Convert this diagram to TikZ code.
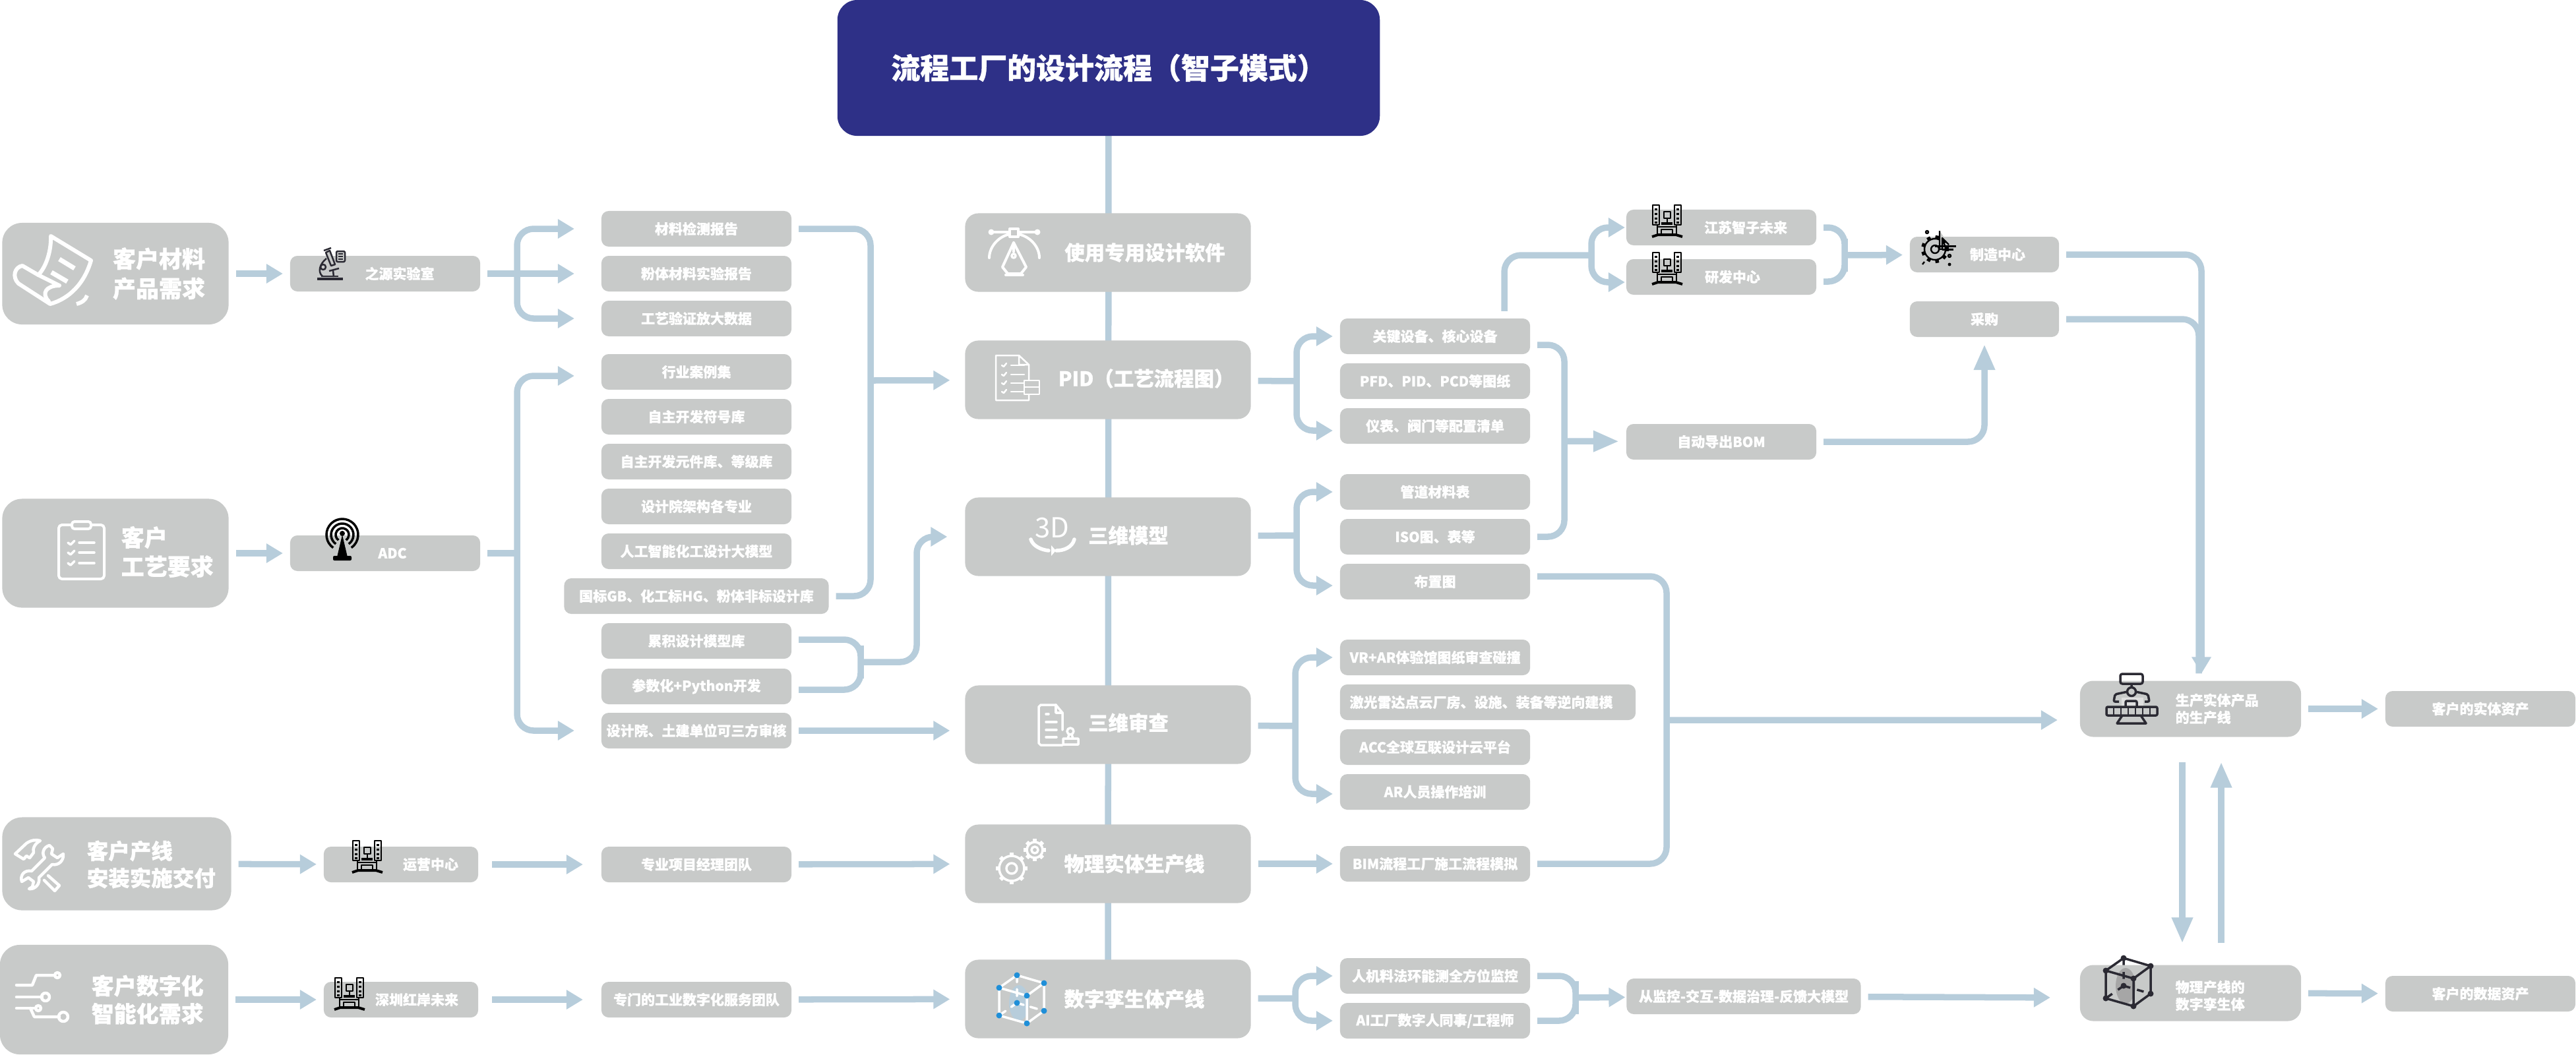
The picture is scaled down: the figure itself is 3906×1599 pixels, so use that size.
\documentclass[tikz,border=0pt]{standalone}
\usepackage{fontspec}
\setmainfont{Noto Sans CJK SC}[BoldFeatures={FakeBold=0.8}]
\usetikzlibrary{arrows.meta}
\pgfdeclarelayer{background}
\pgfsetlayers{background,main}
\definecolor{navy}{HTML}{2E3087}
\definecolor{boxgray}{HTML}{C8CAC9}
\definecolor{flowblue}{HTML}{B7CDDB}
\definecolor{icondark}{HTML}{2B2A33}
\definecolor{nodeblue}{HTML}{1F8FD8}

\tikzset{
  smallfont/.style={font=\bfseries\fontsize{5.97pt}{7.4pt}\selectfont},
  midfont/.style={font=\bfseries\fontsize{8.65pt}{10pt}\selectfont},
  box/.style={rectangle,rounded corners=0.11cm,fill=boxgray,text=white,inner sep=0pt,
    outer sep=0.11cm,minimum width=2.88cm,minimum height=0.54cm,smallfont},
  mainbox/.style={box,rounded corners=0.2cm,minimum width=4.33cm,minimum height=1.19cm},
  custbox/.style={box,rounded corners=0.3cm,minimum width=3.43cm},
  txt/.style={text=white,inner sep=0pt,smallfont},
  maintxt/.style={txt,midfont},
  line/.style={draw=flowblue,line width=0.095cm,rounded corners=0.25cm},
  flow/.style={line,-{Triangle[length=0.25cm,width=0.28cm]}},
  bigflow/.style={line,-{Triangle[length=0.39cm,width=0.3cm]}},
  wicon/.style={draw=white,line width=0.06cm,line cap=round,line join=round},
  wthin/.style={draw=white,line width=0.035cm,line cap=round,line join=round},
  dicon/.style={draw=icondark,line width=0.035cm,line join=round},
  bicon/.style={draw=black,line width=0.024cm,line join=round},
  scrollico/.pic={
    \draw [wicon] (67,13) -- (128,50) .. controls (118,85) and (95,108) .. (66,116)
      -- (18,85) .. controls (8,75) and (12,60) .. (24,58) -- (48,72)
      .. controls (60,60) and (68,35) .. (67,13) -- cycle ;
    \draw [wicon] (48,72) -- (80,88) .. controls (60,88) and (52,100) .. (64,112) ;
    \draw [wicon,line width=0.07cm,line cap=butt] (80,48) -- (103,62) ;
    \draw [wicon,line width=0.07cm,line cap=butt] (68,68) -- (92,82) ;
    \draw [wicon,line cap=butt] (122,103) .. controls (120,110) and (114,114) .. (106,116) ;
  },
  clipico/.pic={
    \draw [wthin,line width=0.04cm,rounded corners=0.05cm] (0,5) rectangle (69,87) ;
    \draw [wthin,line width=0.04cm,fill=boxgray,rounded corners=0.04cm] (20,0) rectangle (49,11) ;
    \foreach \y in {32,47,63} {
      \draw [wthin] (31,\y) -- (54,\y) ;
      \draw [wthin] (14,\y) -- (18,\y+3) -- (24,\y-3) ;
    }
  },
  wrenchico/.pic={
    \draw [wthin,line width=0.045cm] (8,30) -- (25,14) .. controls (32,9) and (40,8) .. (46,10)
      .. controls (38,14) and (34,22) .. (36,28) -- (30,36) -- (25,33) -- (21,38) -- cycle ;
    \draw [wthin,line width=0.045cm] (58,63) -- (75,78) -- (68,86) -- (52,70) ;
    \draw [wthin,line width=0.045cm] (60,17) .. controls (50,20) and (48,30) .. (53,36) -- (33,56)
      .. controls (22,54) and (15,62) .. (18,72) -- (28,66) -- (36,72) -- (34,80) -- (29,83)
      .. controls (38,84) and (46,76) .. (44,66) -- (64,46)
      .. controls (74,48) and (82,40) .. (81,30) -- (72,36) -- (63,30) -- (65,22) -- cycle ;
  },
  circuitico/.pic={
    \draw [wthin,line width=0.045cm] (60,7) -- (33,7) -- (27,22) -- (3,22) ;
    \draw [wthin,line width=0.045cm] (65,7) circle [radius=4] ;
    \draw [wthin,line width=0.045cm] (3,40) -- (42,40) ;
    \draw [wthin,line width=0.045cm] (47,40) circle [radius=6] ;
    \draw [wthin,line width=0.045cm] (3,57) -- (31,57) ;
    \draw [wthin,line width=0.045cm] (36,57) circle [radius=4] ;
    \draw [wthin,line width=0.045cm] (24,57) -- (30,70) -- (68,70) ;
    \draw [wthin,line width=0.045cm] (74,70) circle [radius=7] ;
  },
  penico/.pic={
    \fill [white] (18,17) circle [radius=4.5] (88,17) circle [radius=4.5] ;
    \draw [wthin,line width=0.04cm] (46,12) rectangle (59,24) ;
    \draw [wthin,line width=0.04cm] (18,17) -- (46,17) (59,17) -- (88,17) ;
    \draw [wthin,line width=0.04cm] (46,20) .. controls (28,24) and (15,40) .. (15,56) ;
    \draw [wthin,line width=0.04cm] (59,20) .. controls (78,24) and (91,40) .. (91,56) ;
    \draw [wthin,line width=0.04cm] (52,33) -- (35,70) -- (43,80) -- (63,80) -- (71,70) -- cycle ;
    \draw [wthin,line width=0.04cm] (40,82) -- (66,82) (52,33) -- (52,47) ;
    \draw [wthin] (52,53) circle [radius=3] ;
  },
  docico/.pic={
    \draw [wthin,line width=0.025cm] (35,0) -- (0,0) -- (0,68) -- (50,68) -- (50,14) -- (35,0) -- (35,14) -- (50,14) ;
    \foreach \y in {15,29,42,55} {
      \draw [wthin,line width=0.025cm] (23,\y) -- (43,\y) ;
      \draw [wthin,line width=0.025cm] (9,\y) -- (12,\y+2) -- (16,\y-3) ;
    }
    \draw [wthin,line width=0.025cm,fill=boxgray] (43,38) rectangle (66,48) (43,48) rectangle (66,59) ;
  },
  spinico/.pic={
    \draw [wthin,line width=0.055cm] (2,0) .. controls (5,10) and (18,16) .. (29,17) ;
    \draw [wthin,line width=0.055cm] (68,0) .. controls (65,12) and (52,17) .. (41,17) ;
    \fill [white] (33,9) -- (40,17) -- (33,25) -- cycle ;
  },
  revico/.pic={
    \draw [wthin,line width=0.035cm] (36,38) -- (36,12) -- (26,0) -- (3,0) -- (0,3) -- (0,58) -- (3,61) -- (36,61) ;
    \draw [wthin,line width=0.035cm] (26,0) -- (26,12) -- (36,12) ;
    \draw [wthin] (11,14) -- (15,14) (11,38) -- (27,38) (11,49) -- (27,49) (11,26) -- (27,26) ;
    \draw [wthin] (48,40) circle [radius=5] ;
    \draw [wthin] (37,51) rectangle (60,60) (44,51) -- (46,45) (52,51) -- (50,45) ;
  },
  microico/.pic={
    \draw [dicon,line width=0.025cm] (20,22) .. controls (10,30) and (6,42) .. (14,49) ;
    \draw [dicon,line width=0.025cm,fill=boxgray] (19,13) -- (25,10) -- (33,31) -- (27,33) -- cycle ;
    \draw [dicon,line width=0.025cm] (16,10) -- (27,6) ;
    \draw [dicon,line width=0.025cm] (15,35) circle [radius=4] ;
    \draw [dicon,line width=0.025cm] (24,41) -- (39,37) (30,40) -- (31,50) ;
    \draw [dicon,line width=0.025cm] (12,49) -- (38,49) ;
    \draw [dicon,line width=0.035cm] (6,53) -- (45,53) ;
    \draw [dicon,line width=0.025cm,fill=boxgray,rounded corners=0.02cm] (35,11) rectangle (48,27) ;
    \foreach \y in {15,19,23} \draw [dicon,line width=0.012cm] (38,\y) -- (45,\y) ;
  },
  antennaico/.pic={
    \fill [black] (28,24) -- (20,58) -- (36,58) -- cycle ;
    \fill [black,rounded corners=0.02cm] (14,56) rectangle (42,63) ;
    \fill [black] (28,22) circle [radius=4] ;
    \foreach \r in {10,17,24}
      \draw [black,line width=0.035cm] (28,24) ++(125:\r) arc [start angle=125,end angle=415,radius=\r] ;
  },
  buildico/.pic={
    \draw [bicon] (15,5) rectangle (25,35) (48,5) rectangle (58,35) ;
    \foreach \x in {20,53} \foreach \y in {10,17,24,30}
      \draw [bicon,line width=0.035cm] (\x,\y) -- (\x,\y+3) ;
    \draw [bicon] (32,15) rectangle (42,25) (37,25) -- (37,32) ;
    \draw [bicon,line width=0.035cm] (28,33) -- (45,33) ;
    \draw [bicon] (22,35) -- (22,50) (51,35) -- (51,50) (22,38) -- (51,38) ;
    \draw [bicon] (28,42) rectangle (45,50) ;
    \draw [bicon,line width=0.04cm] (14,53) -- (23,50) -- (50,50) -- (60,53) ;
  },
  gearmadeico/.pic={
    \draw [bicon] (34,33) circle [radius=16] (34,33) circle [radius=6] ;
    \foreach \a in {0,40,...,320}
      \draw [bicon,line width=0.055cm] (34,33) ++(\a:16) -- ++(\a:5) ;
    \draw [bicon,fill=boxgray] (41,5) -- (41,33) -- (45,33) -- (45,16) -- (55,26) ;
    \draw [bicon,line width=0.03cm] (34,28) -- (66,28) (45,33) -- (62,33) ;
    \draw [bicon] (22,7) circle [radius=2] (56,43) circle [radius=2] ;
    \fill [black] (56,56) circle [radius=2.5] ;
    \draw [bicon] (15,56) -- (18,52) ;
  },
  robotico/.pic={
    \fill [gray!25] (37,43) rectangle (70,56) ;
    \draw [dicon,rounded corners=0.03cm] (35,7) rectangle (69,22) ;
    \draw [dicon] (52,22) -- (52,27) (52,34) circle [radius=6.5] ;
    \draw [dicon,rounded corners=0.02cm] (46,34) -- (27,38) -- (25,49) -- (33,49) ;
    \draw [dicon,rounded corners=0.02cm] (58,34) -- (77,38) -- (79,49) -- (72,49) ;
    \draw [dicon,rounded corners=0.02cm] (43,56) -- (43,48) -- (60,48) -- (60,56) ;
    \draw [dicon,rounded corners=0.02cm] (14,57) rectangle (91,70) ;
    \foreach \x in {25,36,47,58,69,80}
      \draw [dicon,line width=0.025cm] (\x,57) -- (\x,70) ;
    \draw [dicon] (38,70) -- (30,82) -- (74,82) -- (66,70) ;
  },
}

%gear wheel at a point : point, outer radius, hole radius, style
\newcommand{\gearwheel}[4]{
  \draw [#4] (#1) circle [radius=#2] (#1) circle [radius=#3] ;
  \foreach \a in {0,45,...,315}
    \draw [#4,line width=0.06cm,line cap=butt] (#1) ++(\a:#2) -- ++(\a:5) ;
}
%cube at an origin : origin, edge style, dot colour, glow colour
\newcommand{\cubeico}[4]{
  \begin{scope}[shift={(#1)}]
    \fill [#4] (37,48) ellipse [x radius=15,y radius=27] ;
    \draw [#2] (34,6) -- (75,18) -- (49,37) -- (7,25) -- cycle ;
    \draw [#2] (75,18) -- (75,60) -- (49,79) -- (49,37) ;
    \draw [#2] (7,25) -- (7,67) -- (49,79) ;
    \draw [#2,dashed] (34,6) -- (34,48) (34,48) -- (75,60) (34,48) -- (7,67) ;
    \foreach \px/\py in {34/6,75/18,49/37,7/25,75/60,49/79,7/67,34/48}
      \fill [#3] (\px,\py) circle [radius=4.5] ;
  \end{scope}
}

\begin{document}
\begin{tikzpicture}[x=0.01cm,y=-0.01cm]
\useasboundingbox (0,0) rectangle (3906,1599) ;

%title
\node [box,rounded corners=0.3cm,fill=navy,minimum width=8.22cm,minimum height=2.06cm,
  font=\bfseries\fontsize{12.5pt}{15pt}\selectfont] (title) at (1681,103) {流程工厂的设计流程（智子模式）} ;

%main steps
\node [mainbox] (soft) at (1680,383) {} ;
\node [mainbox] (pid) at (1680,576) {} ;
\node [mainbox] (model) at (1680,814) {} ;
\node [mainbox] (review) at (1680,1099) {} ;
\node [mainbox] (line) at (1680,1310) {} ;
\node [mainbox] (digital) at (1680,1515) {} ;
\node [maintxt] (softtxt) at (1736,383) {使用专用设计软件} ;
\node [maintxt] (pidtxt) at (1738,574) {PID（工艺流程图）} ;
\node [maintxt] (modeltxt) at (1711,812) {三维模型} ;
\node [maintxt] (reviewtxt) at (1711,1096) {三维审查} ;
\node [maintxt] (linetxt) at (1720,1310) {物理实体生产线} ;
\node [maintxt] (digitaltxt) at (1720,1515) {数字孪生体产线} ;

%spine behind the main steps
\begin{pgfonlayer}{background}
\draw [line] (title.center) -- (digital.center) ;
\end{pgfonlayer}

%customer needs
\node [custbox,minimum height=1.54cm] (need1) at (175,415) {} ;
\node [custbox,minimum height=1.65cm] (need2) at (175,839) {} ;
\node [custbox,minimum width=3.47cm,minimum height=1.41cm] (need3) at (177,1310) {} ;
\node [custbox,minimum width=3.46cm,minimum height=1.66cm] (need4) at (173,1516) {} ;
\node [txt,font=\bfseries\fontsize{9.96pt}{12.8pt}\selectfont,align=center] (need1txt) at (241,415) {客户材料\\产品需求} ;
\node [txt,font=\bfseries\fontsize{9.96pt}{12.5pt}\selectfont,align=left,anchor=west] (need2txt) at (183,837) {客户\\工艺要求} ;
\node [txt,font=\bfseries\fontsize{9.25pt}{11.7pt}\selectfont,align=left,anchor=west] (need3txt) at (131,1311) {客户产线\\安装实施交付} ;
\node [txt,font=\bfseries\fontsize{9.67pt}{12pt}\selectfont,align=left,anchor=west] (need4txt) at (138,1516) {客户数字化\\智能化需求} ;

%second column
\node [box] (lab) at (584,415) {} ;
\node [box] (adc) at (584,839) {} ;
\node [box,minimum width=2.34cm] (ops) at (608,1311) {} ;
\node [box,minimum width=2.34cm] (red) at (608,1516) {} ;
\node [txt] (labtxt) at (606,415) {之源实验室} ;
\node [txt] (adctxt) at (595,839) {ADC} ;
\node [txt] (opstxt) at (653,1311) {运营中心} ;
\node [txt] (redtxt) at (632,1516) {深圳红岸未来} ;

%resource column
\node [box] (mat1) at (1056,347) {材料检测报告} ;
\node [box] (mat2) at (1056,415) {粉体材料实验报告} ;
\node [box] (mat3) at (1056,483) {工艺验证放大数据} ;
\node [box] (case) at (1056,564) {行业案例集} ;
\node [box] (sym) at (1056,632) {自主开发符号库} ;
\node [box] (part) at (1056,700) {自主开发元件库、等级库} ;
\node [box] (org) at (1056,768) {设计院架构各专业} ;
\node [box] (ai) at (1056,836) {人工智能化工设计大模型} ;
\node [box,minimum width=4.01cm] (std) at (1056,904) {国标GB、化工标HG、粉体非标设计库} ;
\node [box] (cum) at (1056,972) {累积设计模型库} ;
\node [box] (para) at (1056,1041) {参数化+Python开发} ;
\node [box] (third) at (1056,1108) {设计院、土建单位可三方审核} ;
\node [box] (team) at (1056,1311) {专业项目经理团队} ;
\node [box] (serv) at (1056,1516) {专门的工业数字化服务团队} ;

%output column
\node [box] (key) at (2176,510) {关键设备、核心设备} ;
\node [box] (pfd) at (2176,578) {PFD、PID、PCD等图纸} ;
\node [box] (inst) at (2176,646) {仪表、阀门等配置清单} ;
\node [box] (pipe) at (2176,746) {管道材料表} ;
\node [box] (iso) at (2176,814) {ISO图、表等} ;
\node [box] (plan) at (2176,882) {布置图} ;
\node [box] (vr) at (2176,997) {VR+AR体验馆图纸审查碰撞} ;
\node [box,minimum width=4.48cm] (lidar) at (2256,1065) {} ;
\node [txt] (lidartxt) at (2246,1065) {激光雷达点云厂房、设施、装备等逆向建模} ;
\node [box] (acc) at (2176,1133) {ACC全球互联设计云平台} ;
\node [box] (train) at (2176,1201) {AR人员操作培训} ;
\node [box] (bim) at (2176,1310) {BIM流程工厂施工流程模拟} ;
\node [box] (watch) at (2176,1480) {人机料法环能测全方位监控} ;
\node [box] (staff) at (2176,1548) {AI工厂数字人同事/工程师} ;

%factories and purchasing
\node [box] (js) at (2610,345) {} ;
\node [box] (rd) at (2610,420) {} ;
\node [box] (bom) at (2610,670) {自动导出BOM} ;
\node [box,minimum width=3.55cm] (loop) at (2644,1511) {从监控-交互-数据治理-反馈大模型} ;
\node [txt] (jstxt) at (2647,345) {江苏智子未来} ;
\node [txt] (rdtxt) at (2627,420) {研发中心} ;
\node [box,minimum width=2.26cm] (make) at (3009,386) {} ;
\node [txt] (maketxt) at (3029,386) {制造中心} ;
\node [box,minimum width=2.26cm] (buy) at (3009,484) {采购} ;

%production line and twin
\node [box,rounded corners=0.2cm,minimum width=3.35cm,minimum height=0.85cm] (prod) at (3321.5,1075) {} ;
\node [box,rounded corners=0.2cm,minimum width=3.35cm,minimum height=0.85cm] (twin) at (3321.5,1506) {} ;
\node [txt,align=left,anchor=west] (prodtxt) at (3298,1075) {生产实体产品\\的生产线} ;
\node [txt,align=left,anchor=west] (twintxt) at (3298,1510) {物理产线的\\数字孪生体} ;
\node [box] (asset1) at (3761,1075) {客户的实体资产} ;
\node [box] (asset2) at (3761,1507) {客户的数据资产} ;

%joints
\coordinate (labj) at (784,415) ;
\coordinate (adcj) at (784,839) ;
\coordinate (matj) at (1320,577) ;
\coordinate (cumj) at (1305,1004) ;
\coordinate (cumk) at (1390,900) ;
\coordinate (pidj) at (1966,578) ;
\coordinate (modelj) at (1966,812) ;
\coordinate (reviewj) at (1964,1101) ;
\coordinate (digitalj) at (1964,1514) ;
\coordinate (keyj) at (2413,387) ;
\coordinate (makej) at (2797,387) ;
\coordinate (bomj) at (2372,669) ;
\coordinate (prodj) at (2527,1092) ;
\coordinate (loopj) at (2389,1513) ;

%first row connectors
\draw [flow] (need1) -- (lab) ;
\draw [flow,shorten >=0.3cm] (lab) -- (mat2) ;
\draw [flow,shorten >=0.3cm] (labj) |- (mat1) ;
\draw [flow,shorten >=0.3cm] (labj) |- (mat3) ;
\draw [line] (mat1) -| (matj) |- (std) ;
\draw [flow,shorten >=0.12cm] (matj) -- (pid) ;

%second row connectors
\draw [flow] (need2) -- (adc) ;
\draw [line] (adc) -- (adcj) ;
\draw [flow,shorten >=0.3cm] (adcj) |- ([yshift=-0.06cm]case.west) ;
\draw [flow,shorten >=0.3cm] (adcj) |- (third) ;
\draw [line] ([yshift=0.02cm]cum.east) -| (cumj) |- ([yshift=-0.05cm]para.east) ;
\draw [flow,shorten >=0.16cm] (cumj) -| (cumk) |- (model) ;
\draw [flow,shorten >=0.12cm] (third) -- ([yshift=-0.09cm]review.west) ;

%third and fourth row connectors
\draw [flow] (need3) -- (ops) ;
\draw [flow,shorten >=0.17cm,shorten <=0.1cm] (ops) -- (team) ;
\draw [flow,shorten >=0.12cm] (team) -- (line) ;
\draw [flow] (line) -- (bim) ;
\draw [flow] (need4) -- (red) ;
\draw [flow,shorten >=0.17cm,shorten <=0.1cm] (red) -- (serv) ;
\draw [flow,shorten >=0.12cm] (serv) -- (digital) ;

%branches of the main steps
\draw [line] (pid) -- (pidj) ;
\draw [flow] (pidj) |- (key) ;
\draw [flow] (pidj) |- ([yshift=-0.07cm]inst.west) ;
\draw [line] (model) -- (modelj) ;
\draw [flow] (modelj) |- (pipe) ;
\draw [flow] (modelj) |- ([yshift=-0.06cm]plan.west) ;
\draw [line] (review) -- (reviewj) ;
\draw [flow] (reviewj) |- (vr) ;
\draw [flow] (reviewj) |- ([yshift=-0.03cm]train.west) ;
\draw [line] (digital) -- (digitalj) ;
\draw [flow] (digitalj) |- (watch) ;
\draw [flow] (digitalj) |- (staff) ;

%right hand connectors
\draw [line] ([xshift=1.05cm]key.north) |- (keyj) ;
\draw [flow,shorten >=-0.09cm] (keyj) |- (js) ;
\draw [flow,shorten >=-0.09cm] (keyj) |- ([yshift=-0.08cm]rd.west) ;
\draw [line] (js) -| (makej) |- ([yshift=-0.07cm]rd.east) ;
\draw [flow] (makej) -- (make) ;
\draw [line] ([yshift=-0.13cm]key.east) -| (bomj) |- (iso) ;
\draw [bigflow] (bomj) -- (bom) ;
\draw [bigflow] (bom) -| (buy) ;
\draw [flow] (make) -| ([xshift=0.165cm]prod.north) ;
\draw [line] (buy) -| ([xshift=0.125cm]prod.north) ;
\draw [line] ([yshift=0.08cm]plan.east) -| (prodj) |- (bim) ;
\draw [flow,shorten >=0.23cm] (prodj) -- ([yshift=-0.17cm]prod.west) ;
\draw [flow] (prod) -- (asset1) ;
\draw [flow] (twin) -- (asset2) ;
\draw [line] (watch) -| (loopj) |- (staff) ;
\draw [flow,shorten >=-0.09cm] (loopj) -- (loop) ;
\draw [flow,shorten >=0.34cm] (loop) -- ([yshift=-0.07cm]twin.west) ;
\draw [bigflow,shorten <=0.27cm,shorten >=0.22cm] ([xshift=-0.125cm]prod.south) -- ([xshift=-0.125cm]twin.north) ;
\draw [bigflow,shorten <=0.22cm,shorten >=0.27cm] ([xshift=0.465cm]twin.north) -- ([xshift=0.465cm]prod.south) ;

%icons
\pic at (10,345) {scrollico} ;
\pic at (89,791) {clipico} ;
\pic at (15,1265) {wrenchico} ;
\pic at (22,1472) {circuitico} ;
\pic at (475,370) {microico} ;
\pic at (491,787) {antennaico} ;
\pic at (520,1270) {buildico} ;
\pic at (493,1478) {buildico} ;
\pic at (2491,306) {buildico} ;
\pic at (2491,378) {buildico} ;
\pic at (1485,335) {penico} ;
\pic at (1510,539) {docico} ;
\pic at (1561,818) {spinico} ;
\node [txt,font=\fontsize{11.9pt}{14pt}\selectfont] (threed) at (1595,800) {3D} ;
\pic at (1575,1069) {revico} ;
\gearwheel{1534,1317}{19}{8}{wthin}
\gearwheel{1569,1289}{12}{5}{wthin}
\cubeico{1508,1473}{wthin}{nodeblue}{flowblue}
\pic at (2900,345) {gearmadeico} ;
\pic at (3180,1015) {robotico} ;
\cubeico{3186,1447}{dicon}{icondark}{gray!70}

\end{tikzpicture}
\end{document}
